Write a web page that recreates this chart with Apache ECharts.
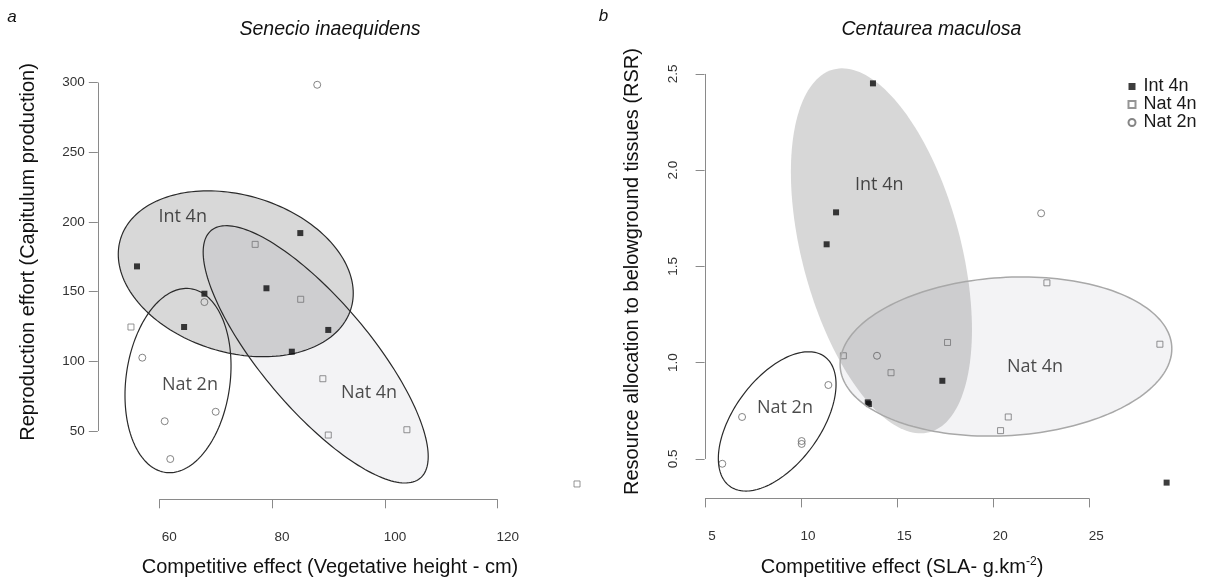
<!DOCTYPE html>
<html>
<head>
<meta charset="utf-8">
<title>Competitive effect vs. resource allocation</title>
<script src="https://cdn.jsdelivr.net/npm/echarts@6/dist/echarts.min.js"></script>
<style>
  html, body { margin: 0; padding: 0; background: #fff; }
  #chart { width: 1205px; height: 582px; }
</style>
</head>
<body>
<div id="chart"></div>
<script>
// ---- Panel a: Senecio inaequidens (x: vegetative height, y: capitulum production)
const senecioInt4n = [[85.0, 192.0], [56.05, 168.1], [68.0, 148.5], [64.4, 124.6], [79.0, 152.4], [89.96, 122.5], [83.5, 106.9]];
const senecioNat4n = [[77.0, 183.9], [85.07, 144.5], [54.98, 124.6], [89.0, 87.5], [89.96, 47.1], [103.9, 50.9], [134.06, 12.0]];
const senecioNat2n = [[88.0, 298.4], [68.0, 142.5], [56.99, 102.6], [70.0, 63.8], [60.96, 57.0], [61.95, 29.9]];
// group ellipses: [centre x, centre y, sd x, sd y, correlation]
const senecioEllipseInt4n = [73.56, 162.8, 20.83, 59.5, -0.235];
const senecioEllipseNat4n = [87.73, 105.0, 19.95, 92.3, -0.794];
const senecioEllipseNat2n = [63.32, 86.2, 9.40, 66.1, 0.16];
const senecioGroupLabels = [['Int 4n', 64.15, 203.7], ['Nat 2n', 65.44, 83.0], ['Nat 4n', 97.2, 77.5]];
const senecioXTicks = [60, 80, 100, 120];
const senecioYTicks = [50, 100, 150, 200, 250, 300];

// ---- Panel b: Centaurea maculosa (x: SLA, y: root/shoot ratio)
const centaureaInt4n = [[13.74, 2.451], [11.82, 1.781], [11.33, 1.615], [13.47, 0.794], [13.53, 0.785], [17.35, 0.906], [29.02, 0.377]];
const centaureaNat4n = [[12.2, 1.036], [17.62, 1.105], [28.67, 1.096], [14.68, 0.948], [20.78, 0.718], [20.38, 0.647], [22.79, 1.415]];
const centaureaNat2n = [[13.95, 1.036], [11.42, 0.884], [6.93, 0.718], [10.03, 0.593], [10.03, 0.578], [5.9, 0.475], [22.49, 1.776]];
const centaureaEllipseInt4n = [14.18, 1.581, 4.71, 0.948, -0.432];
const centaureaEllipseNat4n = [20.66, 1.032, 8.63, 0.4135, 0.098];
const centaureaEllipseNat2n = [8.757, 0.695, 3.062, 0.3618, 0.533];
const centaureaGroupLabels = [['Int 4n', 14.07, 1.923], ['Nat 2n', 9.16, 0.766], ['Nat 4n', 22.17, 0.979]];
const centaureaXTicks = [5, 10, 15, 20, 25];
const centaureaYTicks = [0.5, 1.0, 1.5, 2.0, 2.5];

const groupNames = ['Int 4n', 'Nat 4n', 'Nat 2n'];

const SANS = '"Liberation Sans", Arial, Helvetica, sans-serif';
const LABEL_FONT = '"Open Sans", "Noto Sans", sans-serif';
const AXIS_GREY = '#8a8a8a';

// Ellipse outline built from centre, spreads and correlation, projected through the axes.
function ellipseSeries(gridIndex, params, z, style) {
  return {
    type: 'custom',
    xAxisIndex: gridIndex,
    yAxisIndex: gridIndex,
    z: z,
    silent: true,
    clip: false,
    data: [params],
    encode: { x: 0, y: 1 },
    renderItem: function (p, api) {
      const cx = api.value(0), cy = api.value(1);
      const sx = api.value(2), sy = api.value(3), r = api.value(4);
      const q = Math.sqrt(1 - r * r);
      const pts = [];
      const n = 180;
      for (let i = 0; i < n; i++) {
        const t = (2 * Math.PI * i) / n;
        const x = cx + sx * Math.cos(t);
        const y = cy + sy * (r * Math.cos(t) + q * Math.sin(t));
        pts.push(api.coord([x, y]));
      }
      return { type: 'polygon', shape: { points: pts }, style: style };
    }
  };
}

// Axis lines that run only from the first to the last tick (R style).
function axisLineSeries(gridIndex, xTicks, yTicks) {
  return {
    type: 'custom',
    xAxisIndex: gridIndex,
    yAxisIndex: gridIndex,
    z: 2,
    silent: true,
    clip: false,
    data: [[xTicks[0], yTicks[0]]],
    renderItem: function (p, api) {
      const cs = p.coordSys;
      const xa = api.coord([xTicks[0], yTicks[0]])[0];
      const xb = api.coord([xTicks[xTicks.length - 1], yTicks[0]])[0];
      const ya = api.coord([xTicks[0], yTicks[0]])[1];
      const yb = api.coord([xTicks[0], yTicks[yTicks.length - 1]])[1];
      const bottom = Math.round(cs.y + cs.height) + 0.5;
      const left = Math.round(cs.x) + 0.5;
      const st = { stroke: AXIS_GREY, lineWidth: 1, fill: null };
      return {
        type: 'group',
        children: [
          { type: 'line', shape: { x1: xa, y1: bottom, x2: xb, y2: bottom }, style: st },
          { type: 'line', shape: { x1: left, y1: ya, x2: left, y2: yb }, style: st }
        ]
      };
    }
  };
}

function pointSeries(gridIndex, name, data) {
  const base = {
    name: name,
    type: 'scatter',
    xAxisIndex: gridIndex,
    yAxisIndex: gridIndex,
    z: 3,
    silent: true,
    data: data
  };
  if (name === 'Int 4n') {
    base.symbol = 'rect';
    base.symbolSize = 6;
    base.itemStyle = { color: '#0d0d0d', borderWidth: 0 };
  } else if (name === 'Nat 4n') {
    base.symbol = 'rect';
    base.symbolSize = 6;
    base.itemStyle = { color: 'rgba(255,255,255,0)', borderColor: '#7a7a7a', borderWidth: 1 };
  } else {
    base.symbol = 'circle';
    base.symbolSize = 7;
    base.itemStyle = { color: 'rgba(255,255,255,0)', borderColor: '#666666', borderWidth: 1 };
  }
  return base;
}

function groupLabelSeries(gridIndex, labels) {
  return {
    name: 'group names',
    type: 'scatter',
    xAxisIndex: gridIndex,
    yAxisIndex: gridIndex,
    z: 6,
    silent: true,
    symbolSize: 1,
    itemStyle: { color: 'rgba(0,0,0,0)' },
    data: labels.map(function (l) { return { name: l[0], value: [l[1], l[2]] }; }),
    label: {
      show: true,
      position: 'inside',
      formatter: '{b}',
      fontFamily: LABEL_FONT,
      fontSize: 18,
      color: '#1e1e1e'
    }
  };
}

function xAxisFor(gridIndex, min, max, ticks, shift) {
  return {
    type: 'value',
    gridIndex: gridIndex,
    min: min,
    max: max,
    axisLine: { show: false },
    splitLine: { show: false },
    axisTick: { show: true, length: 9, lineStyle: { color: AXIS_GREY }, customValues: ticks },
    axisLabel: {
      customValues: ticks,
      margin: 31,
      padding: [0, 0, 0, shift],
      fontFamily: SANS,
      fontSize: 13.5,
      color: '#333'
    }
  };
}

function yAxisFor(gridIndex, min, max, ticks, rotated) {
  return {
    type: 'value',
    gridIndex: gridIndex,
    min: min,
    max: max,
    axisLine: { show: false },
    splitLine: { show: false },
    axisTick: { show: true, length: 9, lineStyle: { color: AXIS_GREY }, customValues: ticks },
    axisLabel: {
      customValues: ticks,
      rotate: rotated ? 90 : 0,
      margin: rotated ? 16 : 13,
      padding: rotated ? [0, 0, 8, 0] : [0, 0, 4, 0],
      formatter: rotated ? function (v) { return v.toFixed(1); } : '{value}',
      fontFamily: SANS,
      fontSize: 13.5,
      color: '#333'
    }
  };
}

const chart = echarts.init(document.getElementById('chart'), null, { renderer: 'canvas' });

const option = {
  backgroundColor: '#ffffff',
  animation: false,
  grid: [
    { left: 97.8, top: 68.6, width: 495.8, height: 430.7 },
    { left: 704.6, top: 67.2, width: 479.9, height: 431.2 }
  ],
  xAxis: [
    xAxisFor(0, 49.1, 137, senecioXTicks, 20),
    xAxisFor(1, 4.98, 29.95, centaureaXTicks, 14)
  ],
  yAxis: [
    yAxisFor(0, 1.0, 310, senecioYTicks, false),
    yAxisFor(1, 0.295, 2.535, centaureaYTicks, true)
  ],
  legend: {
    data: groupNames,
    orient: 'vertical',
    left: 1122.5,
    top: 72.5,
    itemWidth: 7,
    itemHeight: 7,
    itemGap: 0,
    selectedMode: false,
    textStyle: { fontFamily: SANS, fontSize: 18, lineHeight: 17, color: '#1a1a1a', padding: [0, 0, 0, 3] }
  },
  graphic: [
    { type: 'text', x: 12, y: 17, style: { text: 'a', font: 'italic 17px ' + SANS, fill: '#111', textAlign: 'center', textVerticalAlign: 'middle', align: 'center', verticalAlign: 'middle' } },
    { type: 'text', x: 603.5, y: 16, style: { text: 'b', font: 'italic 17px ' + SANS, fill: '#111', textAlign: 'center', textVerticalAlign: 'middle', align: 'center', verticalAlign: 'middle' } },
    { type: 'text', x: 330, y: 30, style: { text: 'Senecio inaequidens', font: 'italic 19.5px ' + SANS, fill: '#111', textAlign: 'center', textVerticalAlign: 'middle', align: 'center', verticalAlign: 'middle' } },
    { type: 'text', x: 931.5, y: 30, style: { text: 'Centaurea maculosa', font: 'italic 19.5px ' + SANS, fill: '#111', textAlign: 'center', textVerticalAlign: 'middle', align: 'center', verticalAlign: 'middle' } },
    { type: 'text', x: 330, y: 567, style: { text: 'Competitive effect (Vegetative height - cm)', font: '20px ' + SANS, fill: '#111', textAlign: 'center', textVerticalAlign: 'middle', align: 'center', verticalAlign: 'middle' } },
    { type: 'text', x: 28.7, y: 252, rotation: Math.PI / 2, style: { text: 'Reproduction effort (Capitulum production)', font: '20px ' + SANS, fill: '#111', textAlign: 'center', textVerticalAlign: 'middle', align: 'center', verticalAlign: 'middle' } },
    { type: 'text', x: 632.7, y: 271.5, rotation: Math.PI / 2, style: { text: 'Resource allocation to belowground tissues (RSR)', font: '20px ' + SANS, fill: '#111', textAlign: 'center', textVerticalAlign: 'middle', align: 'center', verticalAlign: 'middle' } },
    {
      type: 'text', x: 902, y: 567,
      style: {
        text: '{m|Competitive effect (SLA- g.km}{s|-2}{m|)}',
        textAlign: 'center', textVerticalAlign: 'middle', align: 'center', verticalAlign: 'middle',
        rich: {
          m: { fontFamily: SANS, fontSize: 20, fill: '#111', color: '#111' },
          s: { fontFamily: SANS, fontSize: 12, fill: '#111', color: '#111', verticalAlign: 'top', padding: [0, 0, 10, 0] }
        }
      }
    }
  ],
  series: [
    // panel a
    ellipseSeries(0, senecioEllipseInt4n, 1, { fill: '#d8d8d8', stroke: '#2a2a2a', lineWidth: 1.2 }),
    axisLineSeries(0, senecioXTicks, senecioYTicks),
    pointSeries(0, 'Int 4n', senecioInt4n),
    pointSeries(0, 'Nat 4n', senecioNat4n),
    pointSeries(0, 'Nat 2n', senecioNat2n),
    ellipseSeries(0, senecioEllipseNat4n, 4, { fill: 'rgba(10,25,60,0.05)', stroke: '#2a2a2a', lineWidth: 1.2 }),
    ellipseSeries(0, senecioEllipseNat2n, 4, { fill: null, stroke: '#2a2a2a', lineWidth: 1.2 }),
    groupLabelSeries(0, senecioGroupLabels),
    // panel b
    ellipseSeries(1, centaureaEllipseInt4n, 1, { fill: '#d7d7d7', stroke: null }),
    axisLineSeries(1, centaureaXTicks, centaureaYTicks),
    pointSeries(1, 'Int 4n', centaureaInt4n),
    pointSeries(1, 'Nat 4n', centaureaNat4n),
    pointSeries(1, 'Nat 2n', centaureaNat2n),
    ellipseSeries(1, centaureaEllipseNat4n, 4, { fill: 'rgba(10,25,60,0.05)', stroke: '#a8a8a8', lineWidth: 1.5 }),
    ellipseSeries(1, centaureaEllipseNat2n, 4, { fill: null, stroke: '#2a2a2a', lineWidth: 1.2 }),
    groupLabelSeries(1, centaureaGroupLabels)
  ]
};

chart.setOption(option);
</script>
</body>
</html>
